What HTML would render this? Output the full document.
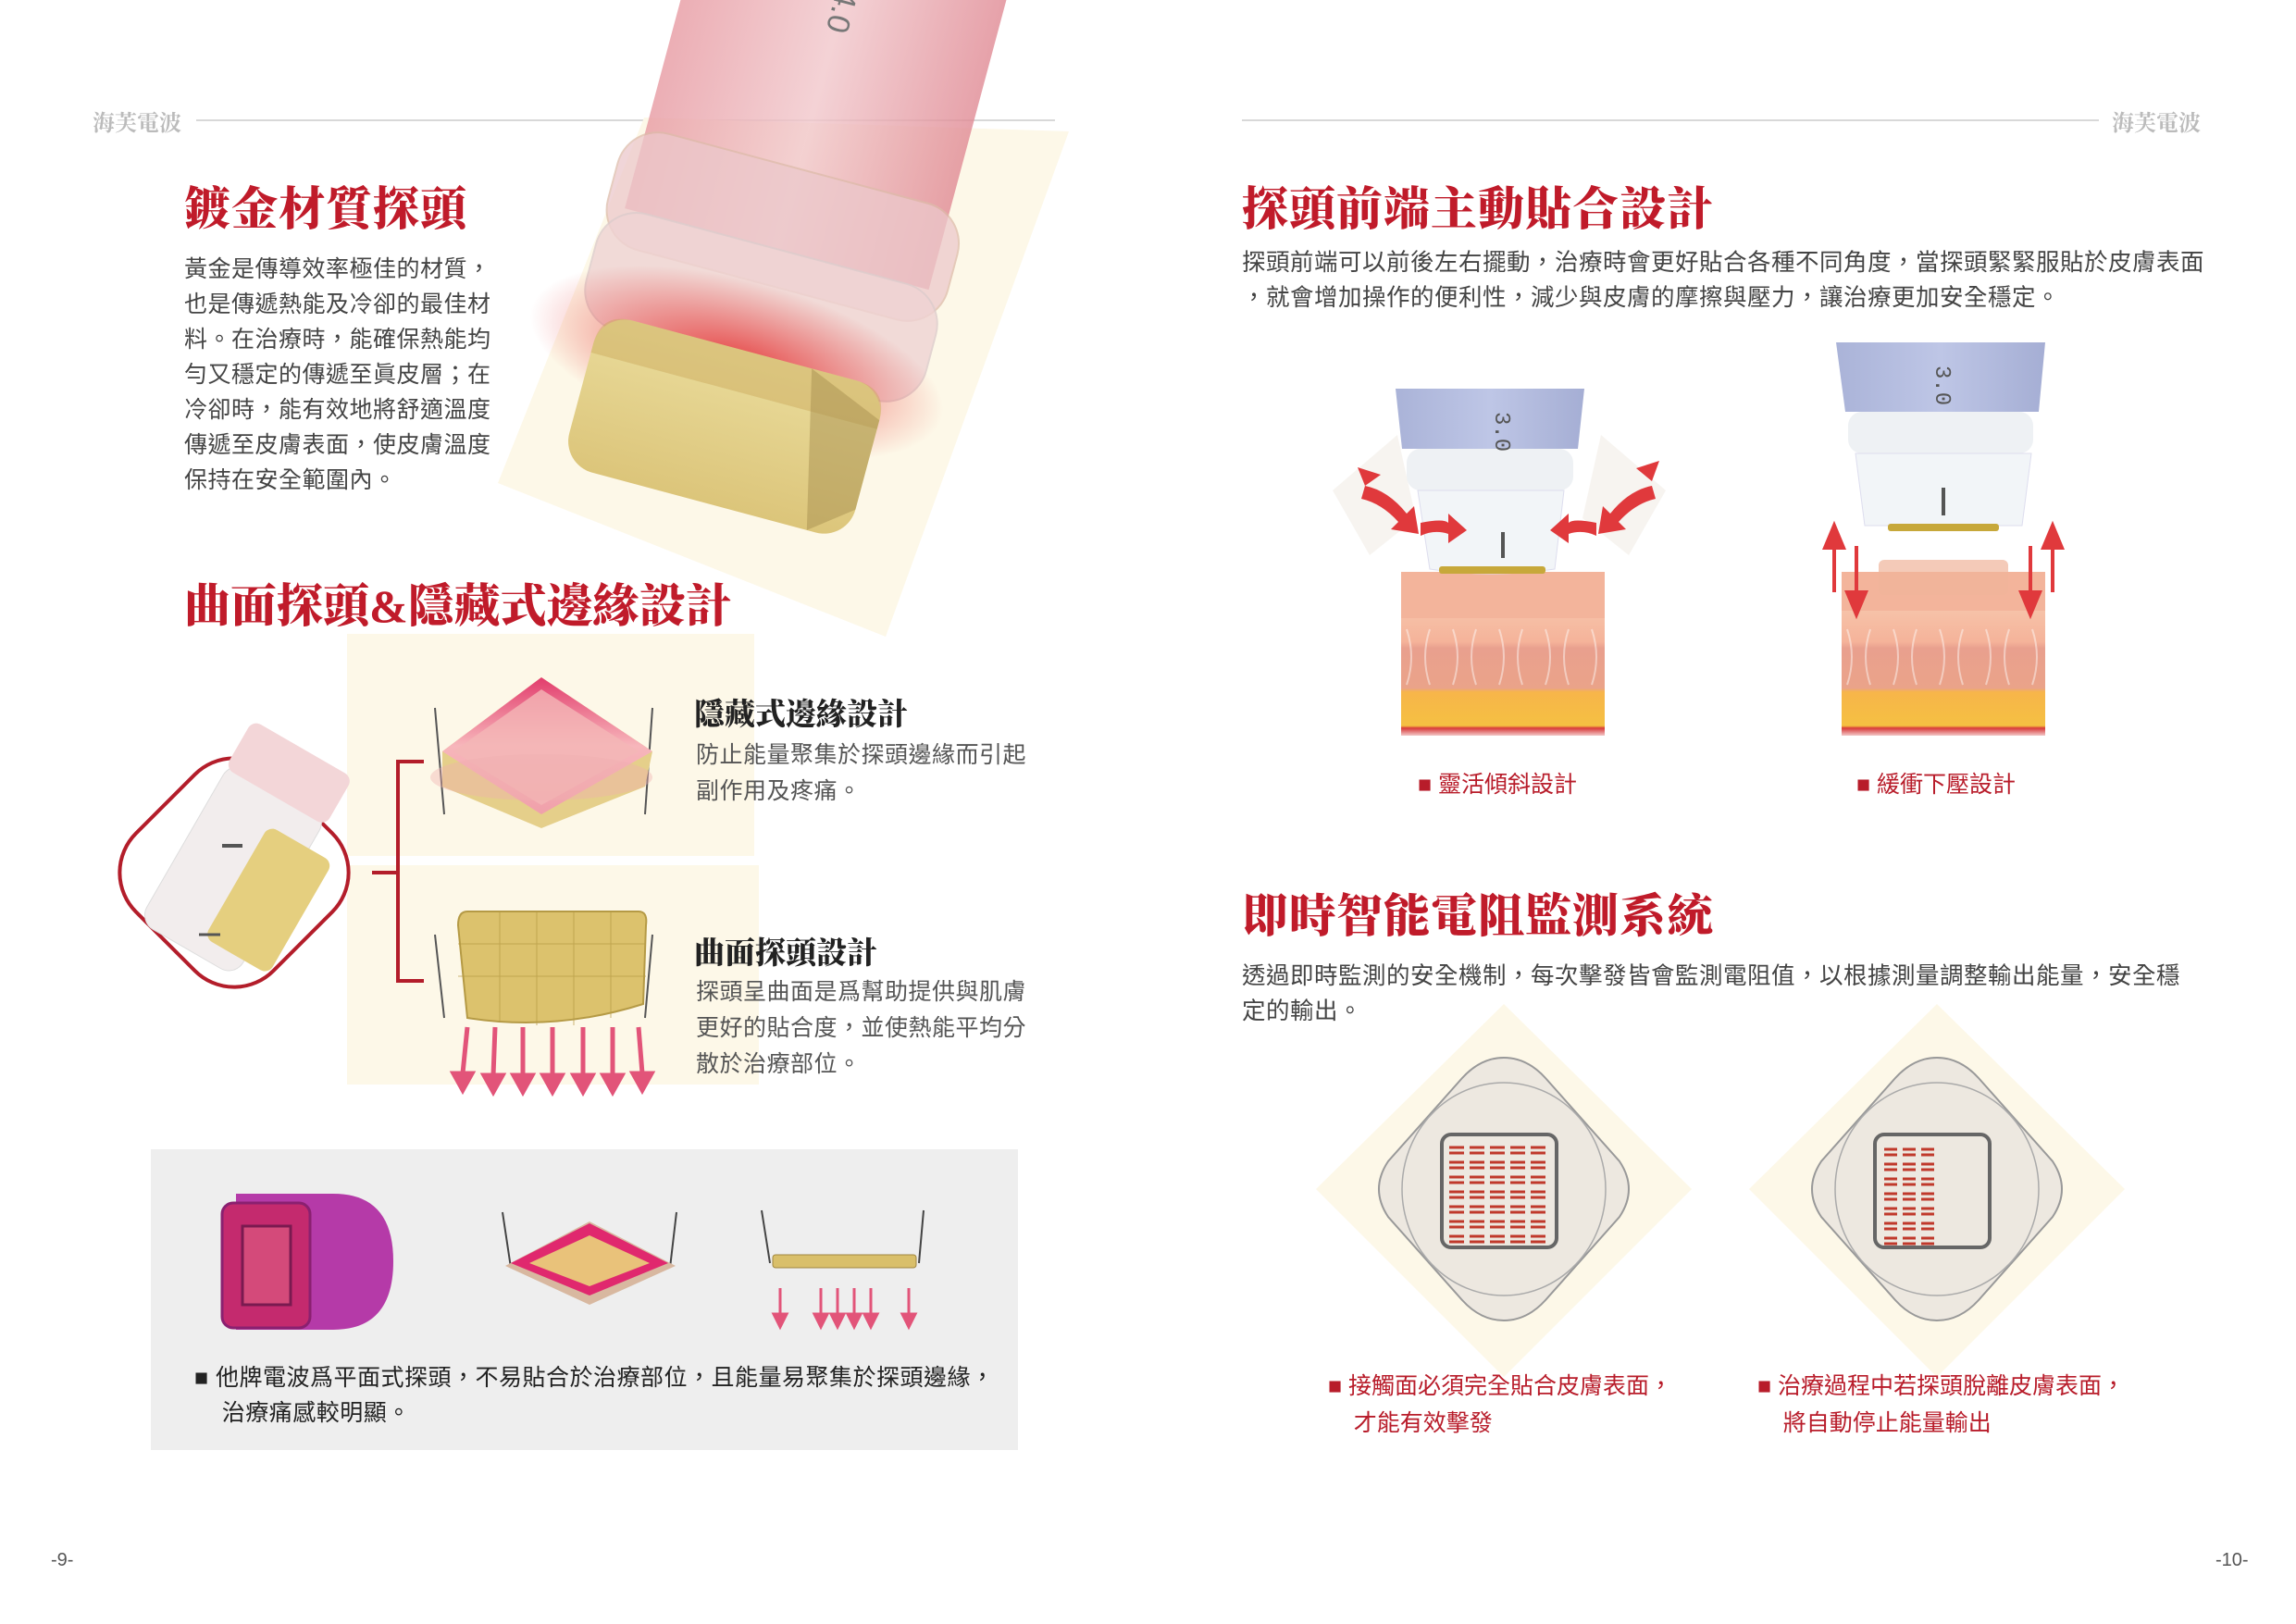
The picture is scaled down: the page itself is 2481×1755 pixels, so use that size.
<!DOCTYPE html>
<html><head><meta charset="utf-8">
<style>
*{margin:0;padding:0;box-sizing:border-box}
body{width:2481px;height:1755px;background:#fff;position:relative;overflow:hidden;font-family:"Liberation Sans","Noto Sans CJK TC",sans-serif}
.a{position:absolute;white-space:nowrap}
.t{font-family:"Liberation Serif","Noto Serif CJK SC",serif;font-weight:900;color:#c01b2a;font-size:50px;letter-spacing:1px}
.b{font-size:25px;color:#444;line-height:38px;letter-spacing:0.5px}
.h{font-family:"Liberation Serif","Noto Serif CJK SC",serif;font-weight:900;color:#222;font-size:33px}
.hd{font-family:"Liberation Serif","Noto Serif CJK SC",serif;font-weight:700;color:#bbb;font-size:24px}
.r{color:#b81c2a;font-size:25px;line-height:40px}
svg{position:absolute;left:0;top:0}
</style></head><body>
<svg width="2481" height="1755" viewBox="0 0 2481 1755">
<defs>
<linearGradient id="cyl" x1="0" y1="0" x2="1" y2="0">
<stop offset="0" stop-color="#e79aa2"/><stop offset="0.5" stop-color="#f1c7cb"/><stop offset="1" stop-color="#e08a94"/></linearGradient>
<radialGradient id="glow" cx="0.5" cy="0.5" r="0.5"><stop offset="0" stop-color="#e42b2b" stop-opacity="0.85"/><stop offset="1" stop-color="#e42b2b" stop-opacity="0"/></radialGradient>
<linearGradient id="gold" x1="0" y1="0" x2="0" y2="1"><stop offset="0" stop-color="#eadc9c"/><stop offset="1" stop-color="#dcc57a"/></linearGradient>
<linearGradient id="blue" x1="0" y1="0" x2="1" y2="0"><stop offset="0" stop-color="#aab3d8"/><stop offset="0.5" stop-color="#bec6e6"/><stop offset="1" stop-color="#a5aed4"/></linearGradient>
<linearGradient id="skin" x1="0" y1="0" x2="0" y2="1"><stop offset="0" stop-color="#f6c2a8"/><stop offset="0.25" stop-color="#f5b39a"/><stop offset="0.3" stop-color="#e9a08e"/><stop offset="0.62" stop-color="#eaa389"/><stop offset="0.65" stop-color="#f7b54a"/><stop offset="0.92" stop-color="#f5c042"/><stop offset="0.94" stop-color="#d83a3a"/><stop offset="1" stop-color="#f2c7c7"/></linearGradient>
<linearGradient id="pinkpad" x1="0" y1="0" x2="0" y2="1"><stop offset="0" stop-color="#e23c6c"/><stop offset="0.5" stop-color="#f7b6bb"/><stop offset="1" stop-color="#f0a0aa"/></linearGradient>
</defs>
<line x1="212" y1="130" x2="1140" y2="130" stroke="#d8d8d8" stroke-width="2"/>
<line x1="1342" y1="130" x2="2268" y2="130" stroke="#d8d8d8" stroke-width="2"/>
<polygon points="696,127 1155,142 957,688 538,522" fill="#fdf8e8"/>
<!-- big probe -->
<g transform="rotate(15 800 300)">
<rect x="660" y="-300" width="340" height="560" fill="url(#cyl)" opacity="0.8"/>
<rect x="640" y="170" width="380" height="130" rx="45" fill="#ecc8cb" opacity="0.75" stroke="#dba" stroke-width="2"/>
<rect x="640" y="260" width="380" height="130" rx="45" fill="#efd3d4" opacity="0.8" stroke="#dcc" stroke-width="2"/>
<ellipse cx="820" cy="390" rx="230" ry="90" fill="url(#glow)"/>
<rect x="665" y="375" width="320" height="170" rx="35" fill="url(#gold)"/>
<path d="M665 410 Q665 375 700 375 H950 Q985 375 985 410 L985 420 H665Z" fill="#c9a95a" opacity="0.45"/>
<path d="M900 375 L985 410 V510 L940 545Z" fill="#a89050" opacity="0.5"/>
<text x="820" y="-30" font-size="34" fill="#777" font-family="Liberation Sans" transform="rotate(90 820 -30)">4.0</text>
</g>
<rect x="375" y="685" width="440" height="240" fill="#fdf8e8"/>
<rect x="375" y="935" width="445" height="237" fill="#fdf8e8"/>
<rect x="148" y="838" width="210" height="210" rx="60" transform="rotate(45 253 943)" fill="#fff" stroke="#b31d2a" stroke-width="4"/>
<g transform="rotate(30 253 943)">
<rect x="190" y="840" width="120" height="200" rx="18" fill="#f2eded" stroke="#ddd"/>
<rect x="188" y="790" width="125" height="60" rx="10" fill="#f3d6d8"/>
<rect x="260" y="880" width="80" height="140" rx="10" fill="#e5cf7f"/>
</g>
<line x1="240" y1="914" x2="262" y2="914" stroke="#555" stroke-width="4"/>
<line x1="215" y1="1010" x2="238" y2="1010" stroke="#555" stroke-width="3"/>
<path d="M402 943 H430 M458 823 H430 V1060 H458" fill="none" stroke="#b31d2a" stroke-width="4"/>
<line x1="470" y1="765" x2="480" y2="880" stroke="#555" stroke-width="2"/>
<line x1="705" y1="765" x2="697" y2="880" stroke="#555" stroke-width="2"/>
<polygon points="585,732 705,812 697,850 585,895 478,850 478,812" fill="#e5cf8a"/>
<polygon points="585,732 705,812 585,880 478,812" fill="url(#pinkpad)"/>
<polygon points="585,745 690,812 585,870 490,812" fill="#f4b7b7" opacity="0.8"/>
<ellipse cx="585" cy="840" rx="120" ry="25" fill="#f0b0b0" opacity="0.4"/>
<line x1="470" y1="1010" x2="480" y2="1100" stroke="#555" stroke-width="2"/>
<line x1="705" y1="1010" x2="697" y2="1100" stroke="#555" stroke-width="2"/>
<path d="M505 985 H690 Q700 985 698 1000 L695 1085 Q600 1115 505 1100 L495 1000 Q495 985 505 985Z" fill="#dcc26d" stroke="#b59a45" stroke-width="2"/>
<g stroke="#b59a45" stroke-width="1" opacity="0.7">
<line x1="540" y1="985" x2="540" y2="1105"/><line x1="580" y1="985" x2="580" y2="1108"/><line x1="620" y1="985" x2="620" y2="1108"/><line x1="660" y1="985" x2="660" y2="1100"/>
<line x1="495" y1="1020" x2="698" y2="1020"/><line x1="495" y1="1055" x2="698" y2="1055"/></g>
<g fill="#e25479" stroke="#e25479" stroke-width="5">
<line x1="505" y1="1110" x2="500" y2="1160"/><polygon points="490,1160 510,1160 500,1178"/>
<line x1="535" y1="1110" x2="533" y2="1162"/><polygon points="523,1162 543,1162 533,1180"/>
<line x1="565" y1="1110" x2="565" y2="1162"/><polygon points="555,1162 575,1162 565,1180"/>
<line x1="597" y1="1110" x2="597" y2="1162"/><polygon points="587,1162 607,1162 597,1180"/>
<line x1="630" y1="1110" x2="630" y2="1162"/><polygon points="620,1162 640,1162 630,1180"/>
<line x1="662" y1="1110" x2="662" y2="1162"/><polygon points="652,1162 672,1162 662,1180"/>
<line x1="690" y1="1110" x2="694" y2="1160"/><polygon points="684,1160 704,1160 694,1178"/>
</g>
<rect x="163" y="1242" width="937" height="325" fill="#eeeeee"/>
<path d="M255 1290 H360 Q425 1290 425 1363 Q425 1437 360 1437 H255 Z" fill="#b53aa8"/>
<rect x="240" y="1300" width="95" height="135" rx="12" fill="#c42a6e" stroke="#8a2070" stroke-width="3"/>
<rect x="262" y="1325" width="52" height="85" fill="#d44a7a" stroke="#7a1a50" stroke-width="3"/>
<line x1="543" y1="1310" x2="552" y2="1370" stroke="#444" stroke-width="2"/>
<line x1="731" y1="1310" x2="724" y2="1370" stroke="#444" stroke-width="2"/>
<polygon points="637,1320 730,1368 637,1410 546,1368" fill="#d8b8a0"/>
<polygon points="637,1322 722,1365 637,1400 552,1365" fill="#e0286e"/>
<polygon points="637,1335 702,1365 637,1390 572,1365" fill="#e9c27a"/>
<line x1="823" y1="1308" x2="832" y2="1365" stroke="#444" stroke-width="2"/>
<line x1="998" y1="1308" x2="993" y2="1365" stroke="#444" stroke-width="2"/>
<rect x="835" y="1356" width="155" height="14" rx="3" fill="#d9bf6a" stroke="#a08640"/>
<g fill="#e25479" stroke="#e25479" stroke-width="3">
<line x1="843" y1="1392" x2="843" y2="1422"/><polygon points="836,1420 850,1420 843,1434"/>
<line x1="887" y1="1392" x2="887" y2="1422"/><polygon points="880,1420 894,1420 887,1434"/>
<line x1="905" y1="1392" x2="905" y2="1422"/><polygon points="898,1420 912,1420 905,1434"/>
<line x1="923" y1="1392" x2="923" y2="1422"/><polygon points="916,1420 930,1420 923,1434"/>
<line x1="941" y1="1392" x2="941" y2="1422"/><polygon points="934,1420 948,1420 941,1434"/>
<line x1="982" y1="1392" x2="982" y2="1422"/><polygon points="975,1420 989,1420 982,1434"/>
</g>
<!-- right probe 1 -->
<polygon points="1440,530 1510,470 1530,560 1480,600" fill="#f4f0ea" opacity="0.7"/>
<polygon points="1800,530 1730,470 1710,560 1760,600" fill="#f4f0ea" opacity="0.7"/>
<rect x="1514" y="660" width="220" height="135" fill="url(#skin)"/>
<rect x="1514" y="618" width="220" height="50" fill="#f3b49b"/>
<g opacity="0.45" stroke="#fff" stroke-width="2" fill="none">
<path d="M1520 680 q10 30 0 60 M1545 680 q-10 30 0 60 M1570 680 q10 30 0 60 M1595 680 q-10 30 0 60 M1620 680 q10 30 0 60 M1645 680 q-10 30 0 60 M1670 680 q10 30 0 60 M1695 680 q-10 30 0 60 M1720 680 q10 30 0 60"/></g>
<path d="M1508 420 H1712 L1705 485 H1515Z" fill="url(#blue)"/>
<rect x="1520" y="485" width="180" height="45" rx="15" fill="#eef1f4"/>
<path d="M1532 530 H1690 L1680 615 Q1610 625 1545 615Z" fill="#f2f5f8" stroke="#dde" />
<rect x="1555" y="612" width="115" height="8" rx="3" fill="#c7a83a"/>
<rect x="1622" y="575" width="4" height="28" fill="#555"/>
<text x="1616" y="445" font-size="24" fill="#555" font-family="Liberation Mono" transform="rotate(90 1616 445)">3.0</text>
<g fill="#e0393c">
<path d="M1475 525 q25 5 45 30 l8 -8 l5 30 l-30 -5 l8 -8 q-18 -20 -40 -25Z"/>
<path d="M1475 525 l-8 -20 l25 8Z"/>
<path d="M1785 525 q-25 5 -45 30 l-8 -8 l-5 30 l30 -5 l-8 -8 q18 -20 40 -25Z"/>
<path d="M1785 520 l8 -22 l-25 8Z"/>
<path d="M1535 565 q25 -5 30 0 l0 -10 l20 18 l-20 14 l0 -10 q-15 -5 -30 2Z"/>
<path d="M1725 565 q-25 -5 -30 0 l0 -10 l-20 18 l20 14 l0 -10 q15 -5 30 2Z"/>
</g>
<!-- right probe 2 -->
<rect x="1990" y="618" width="220" height="50" fill="#f3b49b"/>
<rect x="1990" y="660" width="220" height="135" fill="url(#skin)"/>
<g opacity="0.45" stroke="#fff" stroke-width="2" fill="none">
<path d="M1996 680 q10 30 0 60 M2021 680 q-10 30 0 60 M2046 680 q10 30 0 60 M2071 680 q-10 30 0 60 M2096 680 q10 30 0 60 M2121 680 q-10 30 0 60 M2146 680 q10 30 0 60 M2171 680 q-10 30 0 60 M2196 680 q10 30 0 60"/></g>
<rect x="2030" y="605" width="140" height="38" rx="6" fill="#f0b49a" opacity="0.7"/>
<path d="M1984 370 H2210 L2203 445 H1994Z" fill="url(#blue)"/>
<rect x="1997" y="445" width="200" height="45" rx="15" fill="#eef1f4"/>
<path d="M2005 490 H2195 L2185 568 H2015Z" fill="#f2f5f8" stroke="#dde"/>
<rect x="2040" y="566" width="120" height="8" rx="3" fill="#c7a83a"/>
<rect x="2098" y="527" width="4" height="30" fill="#555"/>
<text x="2092" y="395" font-size="24" fill="#555" font-family="Liberation Mono" transform="rotate(90 2092 395)">3.0</text>
<g fill="#e0393c" stroke="#e0393c" stroke-width="4">
<line x1="1982" y1="590" x2="1982" y2="640"/><polygon points="1972,592 1992,592 1982,568"/>
<line x1="2006" y1="590" x2="2006" y2="642"/><polygon points="1996,640 2016,640 2006,664"/>
<line x1="2218" y1="590" x2="2218" y2="640"/><polygon points="2208,592 2228,592 2218,568"/>
<line x1="2194" y1="590" x2="2194" y2="642"/><polygon points="2184,640 2204,640 2194,664"/>
</g>
<g id="dm">
<polygon points="1625,1085 1828,1285 1625,1488 1422,1285" fill="#fdf8e8"/>
<path d="M1625 1178 Q1650 1178 1670 1200 L1750 1290 Q1770 1320 1750 1350 L1670 1440 Q1650 1462 1625 1462 Q1600 1462 1580 1440 L1500 1350 Q1480 1320 1500 1290 L1580 1200 Q1600 1178 1625 1178Z" transform="translate(0 -35)" fill="#ede8e0" stroke="#999" stroke-width="2"/>
<ellipse cx="1625" cy="1285" rx="110" ry="115" fill="none" stroke="#aaa" stroke-width="1.5"/>
<rect x="1558" y="1226" width="124" height="122" rx="10" fill="#ede8e0" stroke="#666" stroke-width="4"/>
</g>
<use href="#dm" transform="translate(468 0)"/>
<g stroke="#c0392b" stroke-width="3">
<path id="row" d="M1566 1240 h16 M1566 1246 h16 M1588 1240 h16 M1588 1246 h16 M1610 1240 h16 M1610 1246 h16 M1632 1240 h16 M1632 1246 h16 M1654 1240 h16 M1654 1246 h16"/>
<use href="#row" y="16"/><use href="#row" y="32"/><use href="#row" y="48"/><use href="#row" y="64"/><use href="#row" y="80"/><use href="#row" y="96"/>
<path id="row2" d="M2036 1242 h14 M2036 1248 h14 M2056 1242 h14 M2056 1248 h14 M2076 1242 h14 M2076 1248 h14"/>
<use href="#row2" y="16"/><use href="#row2" y="32"/><use href="#row2" y="48"/><use href="#row2" y="64"/><use href="#row2" y="80"/><use href="#row2" y="96"/>
</g>
</svg>

<div class="a hd" style="left:100px;top:113px">海芙電波</div>
<div class="a hd" style="left:2282px;top:113px">海芙電波</div>

<div class="a t" style="left:199px;top:186px">鍍金材質探頭</div>
<div class="a b" style="left:199px;top:272px">黃金是傳導效率極佳的材質，<br>也是傳遞熱能及冷卻的最佳材<br>料。在治療時，能確保熱能均<br>勻又穩定的傳遞至眞皮層；在<br>冷卻時，能有效地將舒適溫度<br>傳遞至皮膚表面，使皮膚溫度<br>保持在安全範圍內。</div>

<div class="a t" style="left:199px;top:615px;letter-spacing:0">曲面探頭&amp;隱藏式邊緣設計</div>
<div class="a h" style="left:750px;top:746px">隱藏式邊緣設計</div>
<div class="a b" style="left:752px;top:797px;color:#555;line-height:39px">防止能量聚集於探頭邊緣而引起<br>副作用及疼痛。</div>
<div class="a h" style="left:750px;top:1004px">曲面探頭設計</div>
<div class="a b" style="left:752px;top:1053px;color:#555;line-height:39px">探頭呈曲面是爲幫助提供與肌膚<br>更好的貼合度，並使熱能平均分<br>散於治療部位。</div>

<div class="a b" style="left:210px;top:1470px;color:#222">■ 他牌電波爲平面式探頭，不易貼合於治療部位，且能量易聚集於探頭邊緣，<br>&nbsp;&nbsp;&nbsp;&nbsp;治療痛感較明顯。</div>

<div class="a t" style="left:1342px;top:186px">探頭前端主動貼合設計</div>
<div class="a b" style="left:1342px;top:265px;font-size:25.5px">探頭前端可以前後左右擺動，治療時會更好貼合各種不同角度，當探頭緊緊服貼於皮膚表面<br>，就會增加操作的便利性，減少與皮膚的摩擦與壓力，讓治療更加安全穩定。</div>
<div class="a r" style="left:1532px;top:828px">■ 靈活傾斜設計</div>
<div class="a r" style="left:2006px;top:828px">■ 緩衝下壓設計</div>

<div class="a t" style="left:1342px;top:950px">即時智能電阻監測系統</div>
<div class="a b" style="left:1342px;top:1036px;font-size:25.5px">透過即時監測的安全機制，每次擊發皆會監測電阻值，以根據測量調整輸出能量，安全穩<br>定的輸出。</div>

<div class="a r" style="left:1435px;top:1478px">■ 接觸面必須完全貼合皮膚表面，<br>&nbsp;&nbsp;&nbsp;&nbsp;才能有效擊發</div>
<div class="a r" style="left:1899px;top:1478px">■ 治療過程中若探頭脫離皮膚表面，<br>&nbsp;&nbsp;&nbsp;&nbsp;將自動停止能量輸出</div>

<div class="a" style="left:55px;top:1675px;font-size:20px;color:#555">-9-</div>
<div class="a" style="left:2394px;top:1675px;font-size:20px;color:#555">-10-</div>
</body></html>
